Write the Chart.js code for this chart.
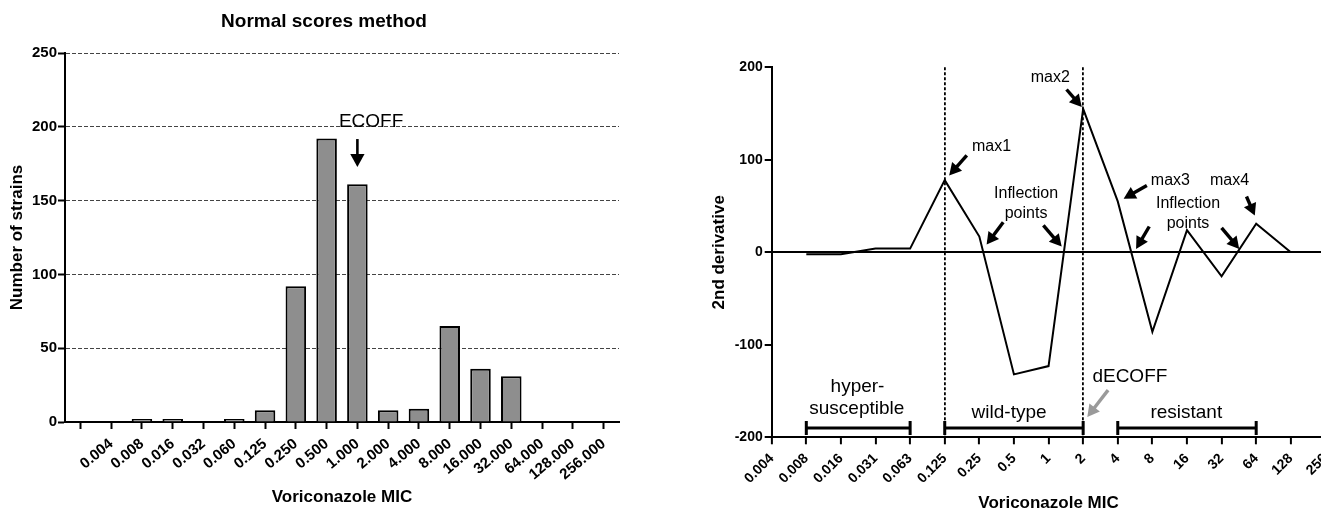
<!DOCTYPE html>
<html><head><meta charset="utf-8">
<script src="https://cdn.jsdelivr.net/npm/chart.js@4"></script>
<style>
html,body{margin:0;padding:0;background:#fff;overflow:hidden;width:1321px;height:510px;position:relative}
#c1{position:absolute;left:0;top:0}
#c2{position:absolute;left:680px;top:0}
</style></head><body>
<canvas id="c1" width="660" height="510"></canvas>
<canvas id="c2" width="700" height="510"></canvas>
<script>
// ---------- data ----------
const micLeft = ['0.004','0.008','0.016','0.032','0.060','0.125','0.250','0.500','1.000','2.000','4.000','8.000','16.000','32.000','64.000','128.000','256.000'];
const strainCounts = [0,2,2,0,2,8,92,192,161,8,9,65,36,31,0,0,0];
const leftYMin = 0, leftYMax = 250, leftYStep = 50;

const micRight = ['0.004','0.008','0.016','0.031','0.063','0.125','0.25','0.5','1','2','4','8','16','32','64','128','256'];
const secondDerivative = [null,-2,-2,4,4,78,17,-132,-123,155,55,-86,24,-26,31,0,null];
const rightYMin = -200, rightYMax = 200, rightYStep = 100;
const dottedAt = ['0.125','2'];

// ---------- annotations (data coordinates) ----------
const leftNotes = { ecoffAt: '1.000', textValue: 200, arrowFrom: 191.7, arrowTo: 172.8 };
const rightTexts = [
  {t:'max1', x:6.354, y:114.6, s:16},
  {t:'max2', x:8.05, y:189, s:16},
  {t:'max3', x:11.52, y:77.7, s:16},
  {t:'max4', x:13.23, y:77.7, s:16},
  {t:'Inflection', x:7.35, y:63.1, s:16},
  {t:'points', x:7.35, y:41.4, s:16},
  {t:'Inflection', x:12.03, y:52.5, s:16},
  {t:'points', x:12.03, y:30.8, s:16},
  {t:'dECOFF', x:10.35, y:-134.7, s:19},
  {t:'hyper-', x:2.48, y:-145.1, s:19},
  {t:'susceptible', x:2.46, y:-169.3, s:19},
  {t:'wild-type', x:6.86, y:-173.4, s:19},
  {t:'resistant', x:11.98, y:-173.4, s:19}
];
const rightArrows = [
  {f:[5.637,104.8], to:[5.128,83.1]},
  {f:[8.52,176.0], to:[8.96,157.2]},
  {f:[10.84,72.3], to:[10.17,57.9]},
  {f:[13.72,60.3], to:[13.96,39.7]},
  {f:[6.69,32.5], to:[6.21,8.3]},
  {f:[7.85,29.0], to:[8.38,6.2]},
  {f:[10.91,27.9], to:[10.53,3.7]},
  {f:[13.0,26.5], to:[13.51,3.7]},
  {f:[9.72,-149.0], to:[9.12,-178.1], grey:true}
];
const rightRanges = [ {from:'0.008', to:'0.063', y:-190}, {from:'0.125', to:'2', y:-190}, {from:'4', to:'64', y:-190} ];

Chart.defaults.font.family = '"Liberation Sans", Arial, Helvetica, sans-serif';
Chart.defaults.color = '#000';

function drawArrow(ctx, x1, y1, x2, y2, color, w, head) {
  const a = Math.atan2(y2 - y1, x2 - x1);
  const hw = head * 0.55;
  const bx = x2 - head * Math.cos(a), by = y2 - head * Math.sin(a);
  ctx.save();
  ctx.strokeStyle = color; ctx.fillStyle = color; ctx.lineWidth = w;
  ctx.beginPath(); ctx.moveTo(x1, y1); ctx.lineTo(bx + Math.cos(a), by + Math.sin(a)); ctx.stroke();
  ctx.beginPath(); ctx.moveTo(x2, y2);
  ctx.lineTo(bx + hw * Math.sin(a), by - hw * Math.cos(a));
  ctx.lineTo(bx - hw * Math.sin(a), by + hw * Math.cos(a));
  ctx.closePath(); ctx.fill();
  ctx.restore();
}
function txt(ctx, t, x, y, font, rot) {
  ctx.save();
  ctx.font = font; ctx.fillStyle = '#000';
  ctx.textAlign = 'center'; ctx.textBaseline = 'middle';
  ctx.translate(x, y);
  if (rot) ctx.rotate(rot);
  ctx.fillText(t, 0, 0);
  ctx.restore();
}
const FAM = '"Liberation Sans", Arial, sans-serif';

// ---------- left chart ----------
const leftLabels = [''].concat(micLeft);
const leftData = [null].concat(strainCounts);

const leftPlugin = {
  id: 'leftAnnot',
  afterDraw(chart) {
    const ctx = chart.ctx, xs = chart.scales.x, ys = chart.scales.y, ca = chart.chartArea;
    txt(ctx, 'Normal scores method', 324, 21.5, 'bold 19px ' + FAM);
    txt(ctx, 'Voriconazole MIC', (ca.left + ca.right) / 2, 497, 'bold 17px ' + FAM);
    txt(ctx, 'Number of strains', 17.5, (ca.top + ca.bottom) / 2, 'bold 17px ' + FAM, -Math.PI / 2);
    const ex = xs.getPixelForValue(leftLabels.indexOf(leftNotes.ecoffAt));
    ctx.save();
    ctx.font = '19px ' + FAM; ctx.fillStyle = '#000'; ctx.textAlign = 'left'; ctx.textBaseline = 'alphabetic';
    ctx.fillText('ECOFF', ex - 18.5, ys.getPixelForValue(leftNotes.textValue));
    ctx.restore();
    drawArrow(ctx, ex, ys.getPixelForValue(leftNotes.arrowFrom), ex, ys.getPixelForValue(leftNotes.arrowTo), '#000', 2.6, 13);
  }
};

new Chart(document.getElementById('c1'), {
  type: 'bar',
  data: { labels: leftLabels, datasets: [{ data: leftData, backgroundColor: '#8e8e8e', borderColor: '#000', borderWidth: 2, barPercentage: 0.667, categoryPercentage: 1 }] },
  options: {
    responsive: false, animation: false,
    layout: { padding: { left: 0, top: 53, right: 41, bottom: 0 } },
    plugins: { legend: { display: false }, tooltip: { enabled: false } },
    scales: {
      x: {
        offset: true,
        grid: { offset: false, drawOnChartArea: false, tickLength: 7, tickColor: '#000', tickWidth: 2 },
        border: { color: '#000', width: 2 },
        ticks: { autoSkip: false, maxRotation: 40, minRotation: 40, padding: 6, font: { size: 15, weight: 'bold' }, color: '#000' },
        afterFit(s) { s.height = 88; }
      },
      y: {
        min: leftYMin, max: leftYMax,
        grid: { color: '#444', lineWidth: 1, tickLength: 7, tickColor: '#000', tickWidth: 2, tickBorderDash: [] },
        border: { color: '#000', width: 2, dash: [4, 2] },
        ticks: { stepSize: leftYStep, padding: 1, font: { size: 15, weight: 'bold' }, color: '#000' },
        afterFit(s) { s.width = 65; }
      }
    }
  },
  plugins: [leftPlugin]
});

// ---------- right chart ----------
const rightPlugin = {
  id: 'rightAnnot',
  afterDraw(chart) {
    const ctx = chart.ctx, xs = chart.scales.x, ys = chart.scales.y, ca = chart.chartArea;
    const P = (x, y) => [xs.getPixelForValue(x), ys.getPixelForValue(y)];
    txt(ctx, 'Voriconazole MIC', (ca.left + ca.right) / 2, 503, 'bold 17px ' + FAM);
    txt(ctx, '2nd derivative', 39, (ca.top + ca.bottom) / 2, 'bold 17px ' + FAM, -Math.PI / 2);
    rightTexts.forEach(o => { const p = P(o.x, o.y); txt(ctx, o.t, p[0], p[1], o.s + 'px ' + FAM); });
    rightArrows.forEach(o => {
      const a = P(o.f[0], o.f[1]), b = P(o.to[0], o.to[1]);
      drawArrow(ctx, a[0], a[1], b[0], b[1], o.grey ? '#9a9a9a' : '#000', 3.4, 12);
    });
    ctx.save(); ctx.strokeStyle = '#000'; ctx.lineWidth = 3;
    rightRanges.forEach(r => {
      const x1 = xs.getPixelForValue(micRight.indexOf(r.from)), x2 = xs.getPixelForValue(micRight.indexOf(r.to));
      const y = ys.getPixelForValue(r.y);
      ctx.beginPath();
      ctx.moveTo(x1, y); ctx.lineTo(x2, y);
      ctx.moveTo(x1, y - 7); ctx.lineTo(x1, y + 7);
      ctx.moveTo(x2, y - 7); ctx.lineTo(x2, y + 7);
      ctx.stroke();
    });
    ctx.restore();
  }
};

const dottedIdx = dottedAt.map(v => micRight.indexOf(v));
new Chart(document.getElementById('c2'), {
  type: 'line',
  data: { labels: micRight, datasets: [{ data: secondDerivative, borderColor: '#000', borderWidth: 2, pointRadius: 0, tension: 0, fill: false }] },
  options: {
    responsive: false, animation: false,
    layout: { padding: { left: 0, top: 67.3, right: 54.6, bottom: 0 } },
    plugins: { legend: { display: false }, tooltip: { enabled: false } },
    scales: {
      x: {
        offset: false,
        grid: { offset: false, drawOnChartArea: true, lineWidth: 1.8,
                color: c => dottedIdx.includes(c.index) ? '#000' : 'rgba(0,0,0,0)',
                tickLength: 7, tickColor: '#000', tickWidth: 2, tickBorderDash: [] },
        border: { color: '#000', width: 2, dash: [3, 2] },
        ticks: { autoSkip: false, maxRotation: 45, minRotation: 45, padding: 6, font: { size: 14, weight: 'bold' }, color: '#000' },
        afterFit(s) { s.height = 72.7; }
      },
      y: {
        min: rightYMin, max: rightYMax,
        grid: { lineWidth: 2, color: c => (c.tick && c.tick.value === 0) ? '#000' : 'rgba(0,0,0,0)',
                tickLength: 7, tickColor: '#000', tickWidth: 2 },
        border: { color: '#000', width: 2 },
        ticks: { stepSize: rightYStep, padding: 2, font: { size: 14, weight: 'bold' }, color: '#000' },
        afterFit(s) { s.width = 91.7; }
      }
    }
  },
  plugins: [rightPlugin]
});
</script>
</body></html>
